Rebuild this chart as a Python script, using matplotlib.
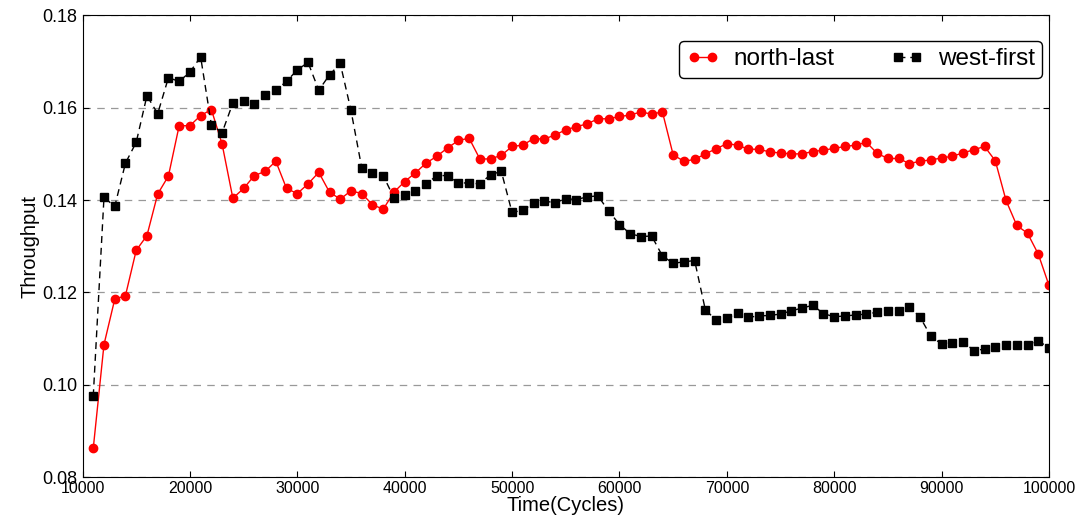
import numpy as np
import matplotlib
matplotlib.use("Agg")
from matplotlib import pyplot as plt
from matplotlib.ticker import FormatStrFormatter

plt.rcParams["font.family"] = ["Liberation Sans", "DejaVu Sans"]

cycles = np.arange(11000, 100001, 1000)

north_last = [
    0.0862, 0.1087, 0.1185, 0.1193, 0.1291, 0.1323, 0.1413, 0.1452, 0.1561, 0.1561,
    0.1583, 0.1596, 0.1521, 0.1404, 0.1425, 0.1453, 0.1462, 0.1484, 0.1425, 0.1414,
    0.1435, 0.1460, 0.1417, 0.1402, 0.1420, 0.1414, 0.1390, 0.1380, 0.1417, 0.1440,
    0.1459, 0.1480, 0.1495, 0.1513, 0.1529, 0.1534, 0.1489, 0.1489, 0.1497, 0.1516,
    0.1519, 0.1533, 0.1532, 0.1541, 0.1552, 0.1559, 0.1565, 0.1576, 0.1576, 0.1581,
    0.1584, 0.1591, 0.1586, 0.1591, 0.1498, 0.1484, 0.1488, 0.1500, 0.1511, 0.1522,
    0.1519, 0.1510, 0.1510, 0.1504, 0.1502, 0.1500, 0.1500, 0.1505, 0.1508, 0.1512,
    0.1516, 0.1519, 0.1525, 0.1501, 0.1490, 0.1490, 0.1479, 0.1484, 0.1487, 0.1491,
    0.1495, 0.1502, 0.1509, 0.1516, 0.1485, 0.1399, 0.1345, 0.1328, 0.1283, 0.1215,
]

west_first = [
    0.0975, 0.1406, 0.1386, 0.1480, 0.1525, 0.1626, 0.1587, 0.1665, 0.1657, 0.1677,
    0.1710, 0.1563, 0.1546, 0.1610, 0.1615, 0.1608, 0.1628, 0.1638, 0.1657, 0.1682,
    0.1698, 0.1638, 0.1671, 0.1696, 0.1594, 0.1470, 0.1459, 0.1453, 0.1405, 0.1411,
    0.1420, 0.1435, 0.1453, 0.1453, 0.1437, 0.1437, 0.1435, 0.1455, 0.1462, 0.1373,
    0.1378, 0.1393, 0.1398, 0.1394, 0.1403, 0.1401, 0.1407, 0.1409, 0.1376, 0.1347,
    0.1327, 0.1321, 0.1322, 0.1279, 0.1263, 0.1266, 0.1269, 0.1162, 0.1140, 0.1144,
    0.1155, 0.1146, 0.1149, 0.1150, 0.1153, 0.1160, 0.1166, 0.1172, 0.1154, 0.1147,
    0.1149, 0.1151, 0.1153, 0.1157, 0.1160, 0.1160, 0.1169, 0.1146, 0.1105, 0.1088,
    0.1091, 0.1093, 0.1074, 0.1077, 0.1082, 0.1085, 0.1085, 0.1087, 0.1095, 0.1080,
]

xticks = np.arange(10000, 100001, 10000)
yticks = [0.08, 0.10, 0.12, 0.14, 0.16, 0.18]

fig = plt.figure(figsize=(10.8, 5.25), dpi=100)
ax = fig.add_axes([0.0764, 0.0914, 0.8949, 0.8793])

ax.plot(cycles, north_last, "r-o", lw=1, ms=6, mec="r", label="north-last")
ax.plot(cycles, west_first, "ks", ls=(0, (5, 3.5)), lw=1, ms=5.5, label="west-first")

ax.set_xlim(10000, 100000)
ax.set_ylim(0.08, 0.18)
ax.set_xticks(xticks)
ax.set_yticks(yticks)
ax.yaxis.set_major_formatter(FormatStrFormatter("%.2f"))
ax.tick_params(axis="both", direction="in", top=True, right=True, length=4)
ax.tick_params(axis="x", labelsize=11.5, pad=3)
ax.tick_params(axis="y", labelsize=13, pad=4)
ax.yaxis.grid(True, ls=(0, (6, 5)), color="#999999", lw=0.9)

ax.set_xlabel("Time(Cycles)", fontsize=14.5, labelpad=0)
ax.set_ylabel("Throughput", fontsize=14.5, labelpad=2)

leg = ax.legend(loc="upper right", ncol=2, numpoints=2, fontsize=17.5,
                bbox_to_anchor=(0.998, 0.955), handlelength=1.35,
                handletextpad=0.6, columnspacing=2.3, borderpad=0.3,
                borderaxespad=0.2, fancybox=True, framealpha=1)
leg.get_frame().set_edgecolor("black")

fig.savefig("out.png", dpi=100)
